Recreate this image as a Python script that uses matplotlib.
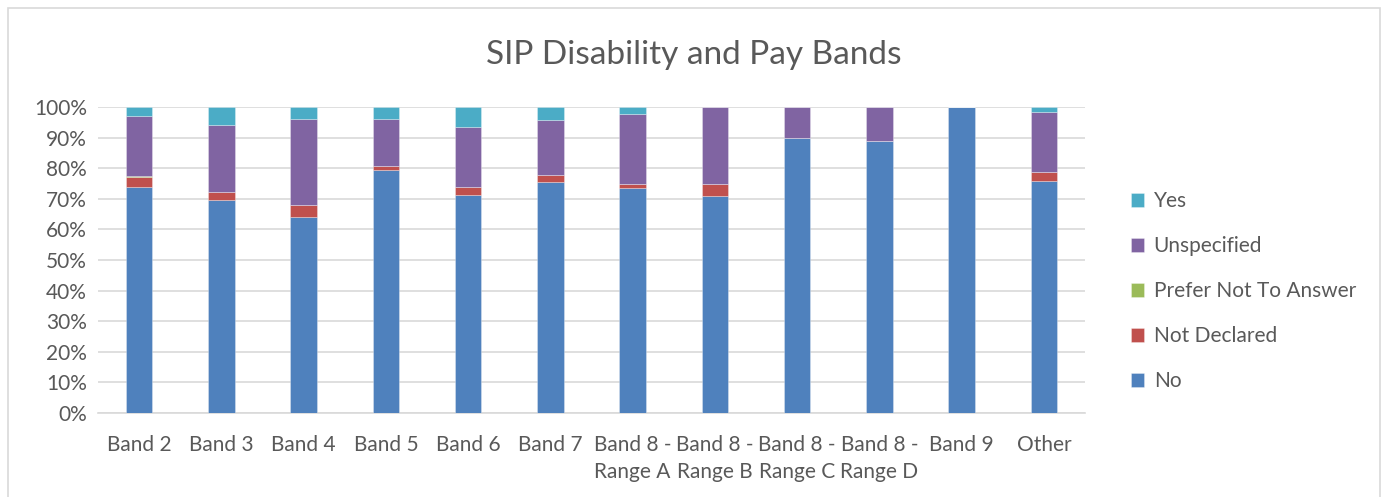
import matplotlib
matplotlib.use("Agg")
import matplotlib.pyplot as plt
from matplotlib.patches import Rectangle
import numpy as np

plt.rcParams['font.family'] = ['Lato', 'DejaVu Sans']

categories = ["Band 2", "Band 3", "Band 4", "Band 5", "Band 6", "Band 7",
              "Band 8 -\nRange A", "Band 8 -\nRange B", "Band 8 -\nRange C",
              "Band 8 -\nRange D", "Band 9", "Other"]
no           = [73.7, 69.5, 64.2, 79.5, 71.3, 75.4, 73.6, 70.8, 89.9, 88.9, 100.0, 75.8]
not_declared = [3.3, 2.7, 3.8, 1.3, 2.6, 2.3, 1.1, 4.0, 0.0, 0.0, 0.0, 3.0]
prefer_not   = [0.3, 0.0, 0.0, 0.0, 0.0, 0.0, 0.0, 0.0, 0.0, 0.0, 0.0, 0.0]
unspecified  = [19.6, 22.0, 28.2, 15.4, 19.6, 17.9, 23.1, 25.1, 10.1, 11.1, 0.0, 19.7]
yes          = [3.2, 5.8, 3.8, 3.8, 6.6, 4.4, 2.3, 0.0, 0.0, 0.0, 0.0, 1.5]

series = [("No", no, "#4F81BD"),
          ("Not Declared", not_declared, "#C0504D"),
          ("Prefer Not To Answer", prefer_not, "#9BBB59"),
          ("Unspecified", unspecified, "#8064A2"),
          ("Yes", yes, "#4BACC6")]

fig = plt.figure(figsize=(13.88, 4.97), dpi=100)
ax = fig.add_axes([98/1388, 1 - 413/497, (1085-98)/1388, (413-107)/497])

x = np.arange(len(categories))
bottom = np.zeros(len(categories))
handles = []
for name, vals, col in series:
    v = np.array(vals)
    h = ax.bar(x, v, bottom=bottom, width=0.32, color=col, label=name,
               edgecolor=(1, 1, 1, 0.35), linewidth=0.6, zorder=3)
    handles.append(h)
    bottom += v

ax.set_xlim(-0.5, len(categories) - 0.5)
ax.set_ylim(0, 100)
ax.set_yticks(np.arange(0, 101, 10))
ax.set_yticklabels([f"{t}%" for t in range(0, 101, 10)], fontsize=15, color="#595959")
ax.set_xticks(x)
ax.set_xticklabels(categories, fontsize=15, color="#595959", linespacing=1.45)
ax.tick_params(axis='both', length=0)
ax.tick_params(axis='y', pad=8)
ax.tick_params(axis='x', pad=16)
ax.grid(axis='y', color="#D9D9D9", linewidth=1.2, zorder=0)
for s in ["top", "right", "left"]:
    ax.spines[s].set_visible(False)
ax.spines["bottom"].set_color("#D9D9D9")
ax.spines["bottom"].set_linewidth(1.2)

fig.text(0.5, 1 - 55/497, "SIP Disability and Pay Bands", ha="center", va="center",
         fontsize=24, color="#595959")

leg = fig.legend(handles[::-1], [s[0] for s in series][::-1],
                 loc="center left", bbox_to_anchor=(1112/1388, 1 - 291/497),
                 frameon=False, fontsize=15, labelspacing=1.2,
                 handlelength=0.65, handleheight=0.65, handletextpad=0.45)
for t in leg.get_texts():
    t.set_color("#595959")

fig.patches.append(Rectangle((8/1388, -0.05), 1372/1388, 1.05 - 8/497, transform=fig.transFigure,
                             fill=False, edgecolor="#D9D9D9", linewidth=1.2))

fig.savefig("out.png", dpi=100, facecolor="white")
